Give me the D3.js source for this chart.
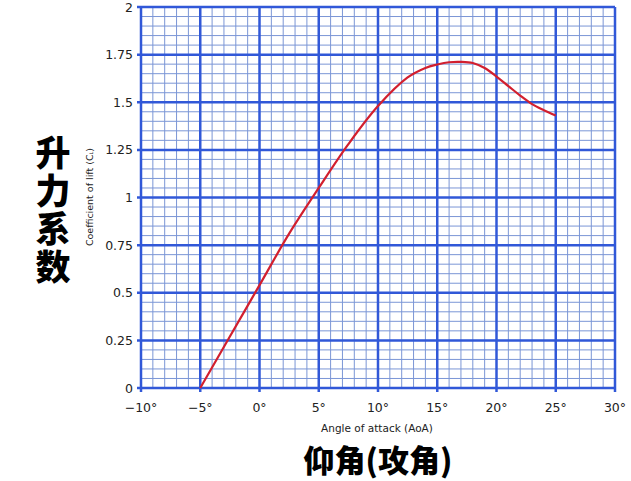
<!DOCTYPE html>
<html><head><meta charset="utf-8">
<script src="https://cdn.jsdelivr.net/npm/d3@7"></script>
<style>body{margin:0;background:#fff}svg{display:block}</style>
</head><body>
<svg id="c" width="631" height="481"></svg>
<script>
// data
const aoa = [-5, -2.5, 0, 2.5, 5, 7.5, 10, 12.5, 14, 15, 16, 17, 18, 19, 20, 21, 22, 23, 24, 25];
const cl  = [0, 0.27, 0.54, 0.81, 1.05, 1.28, 1.48, 1.63, 1.68, 1.698, 1.71, 1.712, 1.706, 1.68, 1.635, 1.585, 1.535, 1.49, 1.458, 1.43];
const xTicks = [-10, -5, 0, 5, 10, 15, 20, 25, 30];
const yTicks = [0, 0.25, 0.5, 0.75, 1, 1.25, 1.5, 1.75, 2];
const xMinor = d3.range(-10, 31, 1);
const yMinor = d3.range(0, 2.0001, 0.05);
const yTitleCN = "升力系数";

const svg = d3.select("#c");
const x = d3.scaleLinear().domain([-10, 30]).range([141, 615]);
const y = d3.scaleLinear().domain([0, 2]).range([388, 7]);

const g = svg.append("g");
// minor grid
g.selectAll(".vm").data(xMinor).join("line")
  .attr("x1", d => x(d)).attr("x2", d => x(d)).attr("y1", y(0)).attr("y2", y(2))
  .attr("stroke", "#7b96d6").attr("stroke-width", 1);
g.selectAll(".hm").data(yMinor).join("line")
  .attr("y1", d => y(d)).attr("y2", d => y(d)).attr("x1", x(-10)).attr("x2", x(30))
  .attr("stroke", "#7b96d6").attr("stroke-width", 1);
// major grid
const major = "#3158d8";
g.selectAll(".vM").data(xTicks).join("line")
  .attr("x1", d => x(d)).attr("x2", d => x(d)).attr("y1", y(0) + 4).attr("y2", y(2))
  .attr("stroke", major).attr("stroke-width", 2.5);
g.selectAll(".hM").data(yTicks).join("line")
  .attr("y1", d => y(d)).attr("y2", d => y(d)).attr("x1", x(-10) - 4).attr("x2", x(30))
  .attr("stroke", major).attr("stroke-width", 2.5);

// axes labels
svg.selectAll(".yl").data(yTicks).join("text")
  .attr("x", x(-10) - 8).attr("y", d => y(d) + 4.5)
  .attr("text-anchor", "end").attr("font-family", "DejaVu Sans").attr("font-size", 12.5)
  .attr("fill", "#222").text(d => String(d));
svg.selectAll(".xl").data(xTicks).join("text")
  .attr("x", d => x(d)).attr("y", 412)
  .attr("text-anchor", "middle").attr("font-family", "DejaVu Sans").attr("font-size", 12.5)
  .attr("fill", "#222").text(d => (d < 0 ? "\u2212" + Math.abs(d) : d) + "\u00B0");

// line
const line = d3.line().x((d, i) => x(aoa[i])).y(d => y(d)).curve(d3.curveCatmullRom.alpha(0.5));
svg.append("path").datum(cl).attr("d", line).attr("fill", "none")
  .attr("stroke", "#d21f2e").attr("stroke-width", 2.2);

// titles
svg.append("text").attr("x", 377).attr("y", 432).attr("text-anchor", "middle")
  .attr("font-family", "DejaVu Sans").attr("font-size", 10.5).attr("fill", "#222")
  .text("Angle of attack (AoA)");
const yt = svg.append("text").attr("transform", "translate(93,197) rotate(-90)")
  .attr("text-anchor", "middle").attr("font-family", "DejaVu Sans").attr("font-size", 9.5).attr("fill", "#222");
yt.append("tspan").text("Coefficient of lift (C");
yt.append("tspan").attr("font-size", 5).text("L");
yt.append("tspan").text(")");

svg.append("text").attr("x", 378).attr("y", 472).attr("text-anchor", "middle")
  .attr("font-family", "Noto Sans CJK SC").attr("font-weight", 900).attr("font-size", 31)
  .attr("fill", "#000").text("仰角(攻角)");
svg.append("text").attr("x", 53).attr("y", 211)
  .style("writing-mode", "vertical-rl").attr("text-anchor", "middle")
  .attr("letter-spacing", 3)
  .attr("font-family", "Noto Sans CJK SC").attr("font-weight", 900).attr("font-size", 35)
  .attr("fill", "#000").text(yTitleCN);
</script>
</body></html>
